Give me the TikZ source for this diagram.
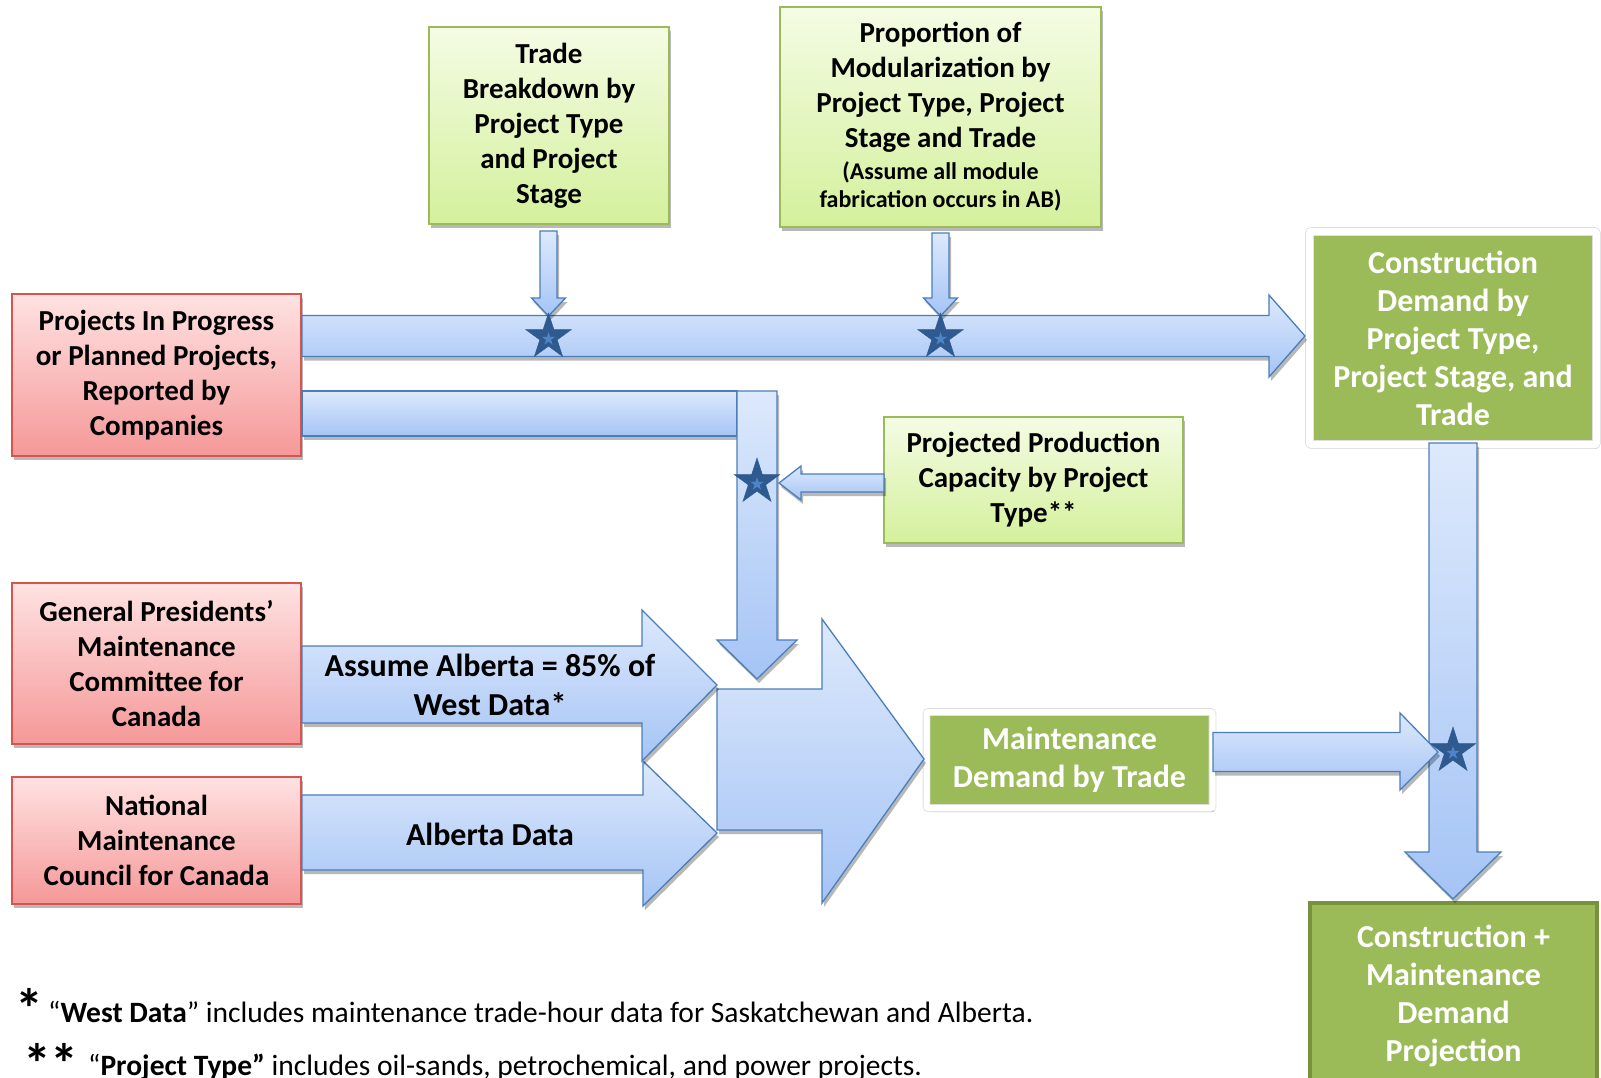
\documentclass[tikz,border=0pt]{standalone}
\usepackage{fontspec}
\setmainfont{Carlito}
\usetikzlibrary{shapes.geometric,shadows}

\definecolor{redtop}{HTML}{FFE2E2}
\definecolor{redbot}{HTML}{F59898}
\definecolor{redline}{HTML}{D9534F}
\definecolor{grtop}{HTML}{F4FCE4}
\definecolor{grbot}{HTML}{D4F09C}
\definecolor{grline}{HTML}{9BBB59}
\definecolor{dkgreen}{HTML}{9BBB59}
\definecolor{dkline}{HTML}{76923C}
\definecolor{bltop}{HTML}{DDE9FC}
\definecolor{blbot}{HTML}{A5C4F5}
\definecolor{blline}{HTML}{4A7EBB}
\definecolor{starfill}{HTML}{2F5A8F}
\definecolor{starin}{HTML}{4F84C8}

\tikzset{
  shad/.style={drop shadow={shadow xshift=2pt,shadow yshift=-4pt,opacity=.28,fill=black}},
  bigfont/.style={font=\bfseries\fontsize{29}{35}\selectfont},
  redbox/.style={rectangle, draw=redline, line width=1.5pt, top color=redtop, bottom color=redbot,
    align=center, bigfont, inner sep=0pt, shad},
  grbox/.style={rectangle, draw=grline, line width=1.5pt, top color=grtop, bottom color=grbot,
    align=center, bigfont, inner sep=0pt, shad},
  dkbox/.style={rectangle, fill=dkgreen, align=center, text=white,
    font=\bfseries\fontsize{32}{38}\selectfont, inner sep=0pt},
  frame/.style={draw=black!13, double=white, line width=0.8pt, rounded corners=2pt, shad},
  barrow/.style={draw=blline, line width=1.3pt, top color=bltop, bottom color=blbot, line join=miter, shad},
  starbig/.style={star, star points=5, star point ratio=2.618, fill=starfill, draw=starfill,
    minimum size=48pt, inner sep=0pt},
  starsmall/.style={star, star points=5, star point ratio=2.618, fill=starin,
    minimum size=14pt, inner sep=0pt},
  lab/.style={align=center, font=\bfseries\fontsize{32}{39}\selectfont, inner sep=0pt},
  note/.style={anchor=base west, inner sep=0pt, font=\fontsize{29.5}{34}\selectfont},
  ast/.style={anchor=center, inner sep=0pt, font=\bfseries\fontsize{56}{56}\selectfont}
}

\begin{document}
\begin{tikzpicture}[x=1pt,y=-1pt]
\useasboundingbox[fill=white] (0,0) rectangle (1601,1077);

% source boxes
\node[redbox, minimum width=289pt, minimum height=162pt] (r1) at (156.5,375)
  {Projects In Progress\\or Planned Projects,\\Reported by\\Companies};
\node[redbox, minimum width=289pt, minimum height=161pt] (r2) at (156.5,663.5)
  {General Presidents’\\Maintenance\\Committee for\\Canada};
\node[redbox, minimum width=289pt, minimum height=127pt] (r3) at (156.5,840.5)
  {National\\Maintenance\\Council for Canada};

\node[grbox, minimum width=240pt, minimum height=197pt] (g1) at (549,125.5)
  {Trade\\Breakdown by\\Project Type\\and Project\\Stage};
\node[grbox, minimum width=321pt, minimum height=220pt] (g2) at (940.5,117)
  {Proportion of\\Modularization by\\Project Type, Project\\Stage and Trade\\[-3pt]
   {\fontsize{24}{28}\selectfont (Assume all module}\\[-7pt]
   {\fontsize{24}{28}\selectfont fabrication occurs in AB)}};
\node[grbox, minimum width=299pt, minimum height=126pt] (g3) at (1033.5,480)
  {Projected Production\\Capacity by Project\\Type**};

% result boxes (white framed)
\node[dkbox, frame, double distance=7pt, minimum width=287pt, minimum height=213pt] (d1) at (1453,338)
  {Construction\\Demand by\\Project Type,\\Project Stage, and\\Trade};
\node[dkbox, frame, double distance=6pt, minimum width=286pt, minimum height=96pt] (d2) at (1069.5,760)
  {Maintenance\\Demand by Trade};
\node[dkbox, draw=dkline, line width=4pt, minimum width=287pt, minimum height=186pt] (d3) at (1453.5,996)
  {Construction +\\Maintenance\\Demand\\Projection};

% top arrows into the main flow
\draw[barrow] (302,315.5) -- (1269,315.5) -- (1269,295) -- (1305,336) -- (1269,377) -- (1269,356.5) -- (302,356.5) -- cycle;
\draw[barrow] (540,231) -- (557,231) -- (557,298) -- (565.5,298) -- (548.5,316) -- (531.5,298) -- (540,298) -- cycle;
\draw[barrow] (932,233) -- (949,233) -- (949,298) -- (957.5,298) -- (940.5,316) -- (923.5,298) -- (932,298) -- cycle;

% bent arrow
\draw[barrow] (302,391) rectangle (737,436);
\draw[barrow] (737,391) -- (777,391) -- (777,640) -- (797,640) -- (757,679) -- (717,640) -- (737,640) -- cycle;
\draw[barrow] (884,474) -- (801,474) -- (801,466) -- (779,483) -- (801,500) -- (801,492) -- (884,492) -- cycle;

% big arrow
\draw[barrow] (717,689) -- (822,689) -- (822,619) -- (924,759) -- (822,903) -- (822,830) -- (717,830) -- cycle;
% maintenance data arrows
\draw[barrow] (302,795) -- (643,795) -- (643,761) -- (717,833) -- (643,906) -- (643,870) -- (302,870) -- cycle;
\draw[barrow] (302,646) -- (642,646) -- (642,610) -- (717,685) -- (642,761) -- (642,723) -- (302,723) -- cycle;
\node[lab] (l1) at (490,685) {Assume Alberta = 85\% of\\West Data*};
\node[lab] (l2) at (490,834) {Alberta Data};

% right side
\draw[barrow] (1429,443) -- (1477,443) -- (1477,852) -- (1501,852) -- (1453,899) -- (1405,852) -- (1429,852) -- cycle;
\draw[barrow] (1213,732.5) -- (1400,732.5) -- (1400,713) -- (1438,752) -- (1400,790) -- (1400,771.5) -- (1213,771.5) -- cycle;

% stars
\node[starbig] (s1) at (548.5,337) {};
\node[starsmall] (s1i) at (548.5,339) {};
\node[starbig] (s2) at (940.5,337) {};
\node[starsmall] (s2i) at (940.5,339) {};
\node[starbig] (s3) at (757,482) {};
\node[starsmall] (s3i) at (757,484) {};
\node[starbig] (s4) at (1453,751) {};
\node[starsmall] (s4i) at (1453,753) {};

% footnotes
\node[ast] (a1) at (29,1008) {*};
\node[note] (n1) at (48,1022) {“\textbf{West Data}” includes maintenance trade-hour data for Saskatchewan and Alberta.};
\node[ast] (a2) at (51,1063) {**};
\node[note] (n2) at (88,1075) {“\textbf{Project Type”} includes oil-sands, petrochemical, and power projects.};
\end{tikzpicture}
\end{document}
